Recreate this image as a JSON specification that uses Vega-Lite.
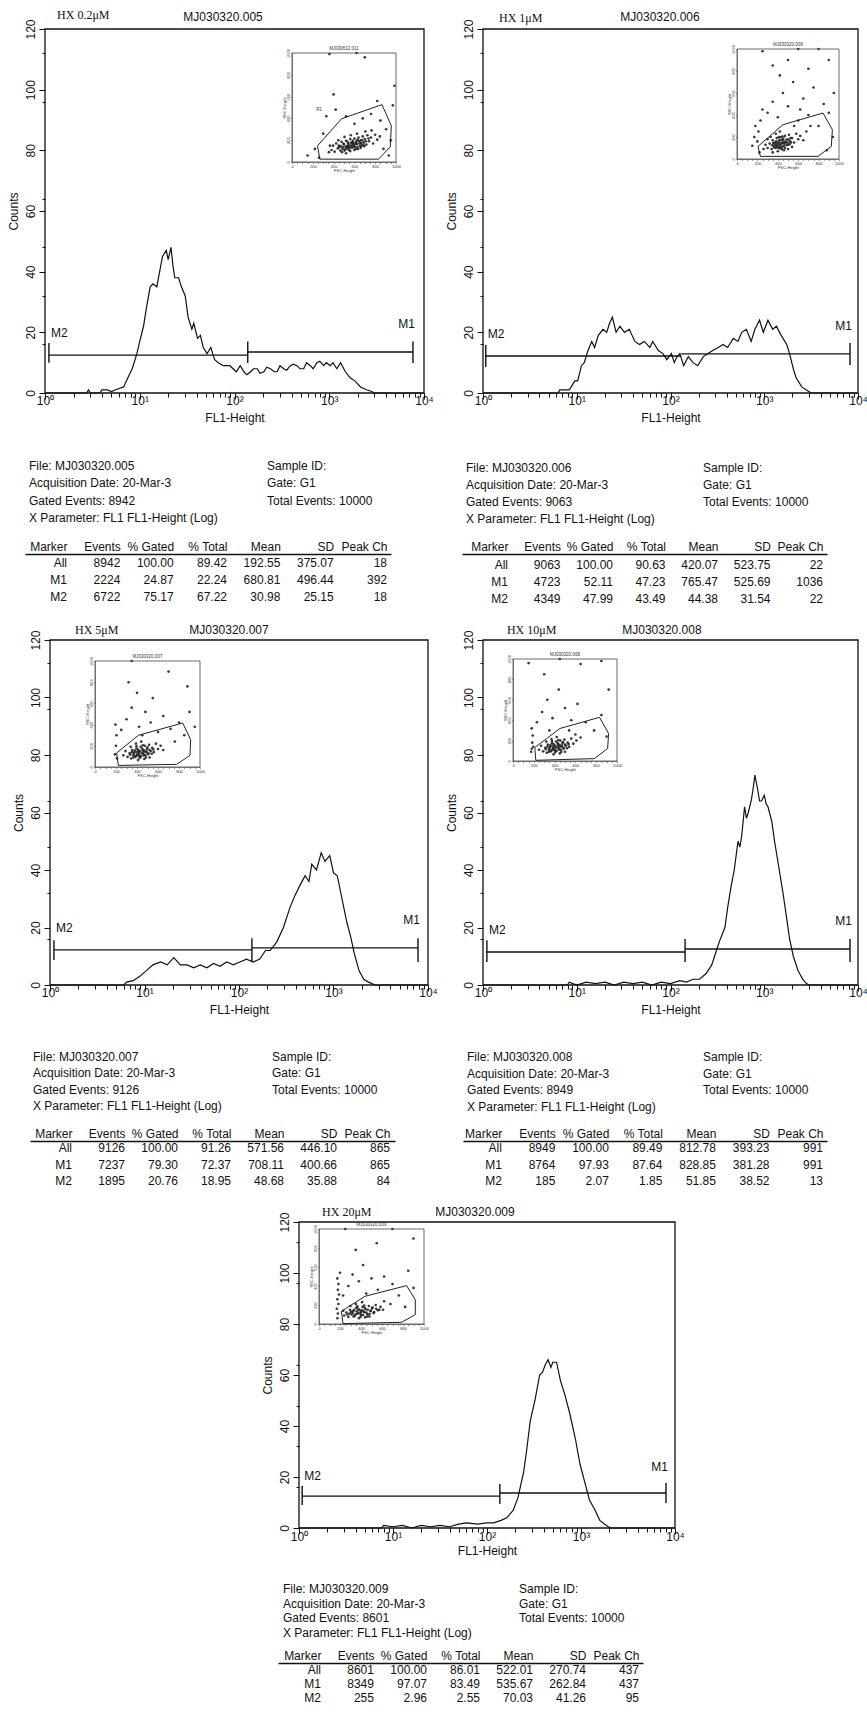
{
"$schema": "https://vega.github.io/schema/vega-lite/v6.json",
"padding": 0,
"background": "white",
"spacing": 0,
"bounds": "flush",
"config": {"font": "Liberation Sans", "view": {"stroke": null}, "axis": {"grid": false}, "text": {"color": "#111"}},
"datasets": {
"h1": [{"x":1,"c":0},{"x":2.51,"c":0},{"x":2.75,"c":0},{"x":2.88,"c":1},{"x":3.02,"c":0},{"x":3.8,"c":0},{"x":3.98,"c":1},{"x":4.57,"c":1},{"x":5.01,"c":0.5},{"x":5.5,"c":1},{"x":6.03,"c":1.5},{"x":6.76,"c":2},{"x":7.24,"c":4},{"x":8.32,"c":8},{"x":9.33,"c":13},{"x":10,"c":17},{"x":10.96,"c":22},{"x":11.75,"c":28},{"x":12.88,"c":35},{"x":13.8,"c":36},{"x":15.14,"c":35},{"x":16.22,"c":40},{"x":17.38,"c":45},{"x":19.05,"c":47},{"x":19.95,"c":44},{"x":21.38,"c":48},{"x":22.39,"c":42},{"x":23.44,"c":38},{"x":25.7,"c":38},{"x":27.54,"c":35},{"x":30.2,"c":32},{"x":32.36,"c":25},{"x":35.48,"c":21},{"x":37.15,"c":23},{"x":40.74,"c":18},{"x":43.65,"c":19},{"x":46.77,"c":15},{"x":51.29,"c":13},{"x":56.23,"c":15},{"x":61.66,"c":11},{"x":67.61,"c":10},{"x":75.86,"c":9},{"x":89.13,"c":9},{"x":104.7,"c":7},{"x":114.8,"c":9},{"x":125.9,"c":7},{"x":134.9,"c":6},{"x":147.9,"c":7},{"x":158.5,"c":8},{"x":173.8,"c":8},{"x":186.2,"c":6.5},{"x":204.2,"c":7},{"x":218.8,"c":8.5},{"x":239.9,"c":8},{"x":263,"c":7},{"x":281.8,"c":7},{"x":302,"c":9},{"x":331.1,"c":8},{"x":354.8,"c":7.5},{"x":389,"c":9},{"x":416.9,"c":9.5},{"x":457.1,"c":9},{"x":489.8,"c":8},{"x":537,"c":8},{"x":575.4,"c":10},{"x":631,"c":9},{"x":676.1,"c":8},{"x":741.3,"c":10},{"x":794.3,"c":10.5},{"x":871,"c":9},{"x":933.3,"c":10},{"x":1023,"c":9},{"x":1096,"c":10},{"x":1202,"c":8},{"x":1318,"c":10},{"x":1479,"c":7},{"x":1660,"c":5},{"x":1862,"c":4},{"x":2138,"c":2},{"x":2512,"c":1},{"x":2818,"c":0.5},{"x":2951,"c":0},{"x":10000,"c":0}],
"h2": [{"x":1,"c":0},{"x":6.31,"c":0},{"x":6.61,"c":1},{"x":8.32,"c":1},{"x":8.71,"c":2},{"x":9.55,"c":4},{"x":10.23,"c":4},{"x":11.22,"c":9},{"x":12.02,"c":10},{"x":13.18,"c":14},{"x":14.45,"c":17},{"x":15.49,"c":15},{"x":16.98,"c":19},{"x":19.05,"c":21},{"x":20.89,"c":20},{"x":22.39,"c":23},{"x":23.99,"c":25},{"x":26.3,"c":20},{"x":28.84,"c":22},{"x":32.36,"c":20},{"x":36.31,"c":21},{"x":41.69,"c":17},{"x":46.77,"c":16},{"x":52.48,"c":17},{"x":60.26,"c":15},{"x":64.57,"c":17},{"x":74.13,"c":14},{"x":83.18,"c":13},{"x":91.2,"c":11},{"x":102.3,"c":13},{"x":109.6,"c":10},{"x":117.5,"c":12},{"x":125.9,"c":13},{"x":138,"c":9},{"x":154.9,"c":12},{"x":173.8,"c":10},{"x":195,"c":9},{"x":223.9,"c":12},{"x":251.2,"c":13},{"x":281.8,"c":14},{"x":323.6,"c":15},{"x":363.1,"c":16},{"x":407.4,"c":15},{"x":467.7,"c":18},{"x":524.8,"c":17},{"x":575.4,"c":20},{"x":645.7,"c":21},{"x":724.4,"c":17},{"x":794.3,"c":21},{"x":891.3,"c":24},{"x":977.2,"c":20},{"x":1096,"c":24},{"x":1230,"c":21},{"x":1349,"c":22},{"x":1514,"c":19},{"x":1738,"c":16},{"x":1862,"c":13},{"x":2042,"c":8},{"x":2188,"c":5},{"x":2512,"c":2},{"x":2818,"c":1},{"x":3162,"c":0},{"x":10000,"c":0}],
"h3": [{"x":1,"c":0},{"x":6.03,"c":0},{"x":6.46,"c":1},{"x":7.59,"c":1.5},{"x":8.91,"c":3},{"x":10.47,"c":5},{"x":12.3,"c":7},{"x":14.79,"c":8},{"x":17.38,"c":7},{"x":20.42,"c":9.5},{"x":23.99,"c":7},{"x":28.18,"c":7},{"x":33.11,"c":6},{"x":38.9,"c":7},{"x":45.71,"c":6},{"x":53.7,"c":7.5},{"x":63.1,"c":6.5},{"x":74.13,"c":8},{"x":87.1,"c":7},{"x":102.3,"c":8},{"x":120.2,"c":9},{"x":141.3,"c":8},{"x":166,"c":9},{"x":190.5,"c":12},{"x":213.8,"c":12},{"x":251.2,"c":15},{"x":295.1,"c":20},{"x":346.7,"c":27},{"x":389,"c":31},{"x":446.7,"c":35},{"x":501.2,"c":38},{"x":549.5,"c":36},{"x":588.8,"c":42},{"x":660.7,"c":40},{"x":741.3,"c":46},{"x":812.8,"c":43},{"x":912,"c":45},{"x":1000,"c":39},{"x":1096,"c":38},{"x":1230,"c":30},{"x":1380,"c":22},{"x":1514,"c":17},{"x":1660,"c":11},{"x":1862,"c":5},{"x":2089,"c":2},{"x":2344,"c":1},{"x":2754,"c":0},{"x":10000,"c":0}],
"h4": [{"x":1,"c":0},{"x":7.94,"c":0},{"x":8.32,"c":1},{"x":10,"c":0},{"x":12.59,"c":1},{"x":15.85,"c":0.5},{"x":19.95,"c":1},{"x":25.12,"c":0},{"x":31.62,"c":1},{"x":39.81,"c":0.5},{"x":50.12,"c":1},{"x":63.1,"c":0},{"x":79.43,"c":1},{"x":100,"c":0.5},{"x":125.9,"c":1.5},{"x":147.9,"c":1},{"x":173.8,"c":2},{"x":204.2,"c":2},{"x":239.9,"c":4},{"x":275.4,"c":7},{"x":309,"c":12},{"x":331.1,"c":15},{"x":380.2,"c":20},{"x":407.4,"c":27},{"x":446.7,"c":35},{"x":478.6,"c":40},{"x":524.8,"c":50},{"x":549.5,"c":48},{"x":575.4,"c":52},{"x":616.6,"c":62},{"x":645.7,"c":58},{"x":676.1,"c":60},{"x":724.4,"c":64},{"x":758.6,"c":68},{"x":794.3,"c":73},{"x":851.1,"c":68},{"x":891.3,"c":64},{"x":933.3,"c":64},{"x":1000,"c":66},{"x":1047,"c":63},{"x":1096,"c":62},{"x":1202,"c":57},{"x":1288,"c":50},{"x":1413,"c":42},{"x":1585,"c":32},{"x":1738,"c":23},{"x":1862,"c":16},{"x":2042,"c":10},{"x":2291,"c":5},{"x":2570,"c":2},{"x":2818,"c":0.5},{"x":3020,"c":0},{"x":10000,"c":0}],
"h5": [{"x":1,"c":0},{"x":7.59,"c":0},{"x":7.94,"c":1},{"x":10,"c":0.5},{"x":12.59,"c":1},{"x":15.85,"c":0},{"x":19.95,"c":1},{"x":25.12,"c":0.5},{"x":31.62,"c":1},{"x":39.81,"c":0.5},{"x":50.12,"c":1.5},{"x":60.26,"c":2},{"x":79.43,"c":1.5},{"x":100,"c":2},{"x":117.5,"c":2},{"x":141.3,"c":3},{"x":162.2,"c":4},{"x":190.5,"c":7},{"x":213.8,"c":12},{"x":245.5,"c":22},{"x":263,"c":30},{"x":288.4,"c":42},{"x":323.6,"c":50},{"x":363.1,"c":60},{"x":389,"c":61},{"x":416.9,"c":64},{"x":446.7,"c":66},{"x":478.6,"c":63},{"x":501.2,"c":65},{"x":549.5,"c":65},{"x":602.6,"c":58},{"x":676.1,"c":52},{"x":758.6,"c":45},{"x":871,"c":35},{"x":977.2,"c":25},{"x":1096,"c":18},{"x":1230,"c":11},{"x":1413,"c":7},{"x":1585,"c":3},{"x":1862,"c":1},{"x":2042,"c":0},{"x":10000,"c":0}],
"g1": [{"m":"M2","start":1.1,"end":138,"level":12.5},{"m":"M1","start":138,"end":7650,"level":13.5}],
"g2": [{"m":"M2","start":1.07,"end":130,"level":12.2},{"m":"M1","start":130,"end":8220,"level":12.9}],
"g3": [{"m":"M2","start":1.1,"end":137,"level":12.2},{"m":"M1","start":137,"end":7840,"level":12.9}],
"g4": [{"m":"M2","start":1.1,"end":143,"level":11.5},{"m":"M1","start":143,"end":8220,"level":12.5}],
"g5": [{"m":"M2","start":1.08,"end":137,"level":12.5},{"m":"M1","start":137,"end":8020,"level":13.7}],
"k1": [{"at":1.1,"lo":10,"hi":16.5},{"at":138,"lo":9.9,"hi":17},{"at":7650,"lo":9.9,"hi":17}],
"k2": [{"at":1.07,"lo":8.6,"hi":15.8},{"at":8220,"lo":9.2,"hi":16.5}],
"k3": [{"at":1.1,"lo":8.7,"hi":15.6},{"at":137,"lo":8,"hi":16.3},{"at":7840,"lo":8,"hi":16.3}],
"k4": [{"at":1.1,"lo":8,"hi":15.6},{"at":143,"lo":8,"hi":16},{"at":8220,"lo":8,"hi":16}],
"k5": [{"at":1.08,"lo":9,"hi":16.5},{"at":137,"lo":9.4,"hi":17.3},{"at":8020,"lo":9.8,"hi":17.6}],
"q1": [{"v":1,"f":245,"s":148},{"v":2,"f":477,"s":397},{"v":3,"f":865,"s":526},{"v":4,"f":955,"s":332},{"v":5,"f":945,"s":139},{"v":6,"f":832,"s":26},{"v":7,"f":268,"s":26},{"v":8,"f":245,"s":148}],
"q2": [{"v":1,"f":206,"s":115},{"v":2,"f":451,"s":312},{"v":3,"f":843,"s":418},{"v":4,"f":935,"s":267},{"v":5,"f":925,"s":115},{"v":6,"f":794,"s":24},{"v":7,"f":229,"s":24},{"v":8,"f":206,"s":115}],
"q3": [{"v":1,"f":206,"s":132},{"v":2,"f":413,"s":299},{"v":3,"f":835,"s":415},{"v":4,"f":911,"s":258},{"v":5,"f":905,"s":110},{"v":6,"f":778,"s":25},{"v":7,"f":222,"s":15},{"v":8,"f":206,"s":132}],
"q4": [{"v":1,"f":210,"s":132},{"v":2,"f":452,"s":319},{"v":3,"f":832,"s":428},{"v":4,"f":919,"s":270},{"v":5,"f":910,"s":122},{"v":6,"f":781,"s":23},{"v":7,"f":219,"s":7},{"v":8,"f":210,"s":132}],
"q5": [{"v":1,"f":213,"s":133},{"v":2,"f":436,"s":291},{"v":3,"f":834,"s":404},{"v":4,"f":917,"s":256},{"v":5,"f":917,"s":98},{"v":6,"f":787,"s":18},{"v":7,"f":229,"s":4},{"v":8,"f":213,"s":133}],
"s1": [{"f":380,"s":110},{"f":395,"s":150},{"f":410,"s":95},{"f":425,"s":170},{"f":440,"s":125},{"f":450,"s":150},{"f":465,"s":105},{"f":475,"s":185},{"f":490,"s":135},{"f":500,"s":160},{"f":510,"s":115},{"f":520,"s":195},{"f":530,"s":145},{"f":540,"s":170},{"f":550,"s":125},{"f":560,"s":210},{"f":570,"s":150},{"f":580,"s":180},{"f":590,"s":135},{"f":600,"s":215},{"f":610,"s":165},{"f":620,"s":190},{"f":630,"s":140},{"f":640,"s":225},{"f":650,"s":170},{"f":660,"s":200},{"f":670,"s":150},{"f":680,"s":235},{"f":690,"s":180},{"f":700,"s":210},{"f":715,"s":160},{"f":725,"s":245},{"f":740,"s":190},{"f":760,"s":225},{"f":780,"s":170},{"f":800,"s":250},{"f":820,"s":205},{"f":845,"s":235},{"f":480,"s":90},{"f":520,"s":80},{"f":560,"s":100},{"f":600,"s":110},{"f":445,"s":200},{"f":505,"s":230},{"f":565,"s":245},{"f":625,"s":260},{"f":355,"s":90},{"f":365,"s":150},{"f":705,"s":280},{"f":765,"s":290},{"f":540,"s":140},{"f":585,"s":160},{"f":470,"s":145},{"f":660,"s":130},{"f":615,"s":120},{"f":455,"s":135},{"f":485,"s":120},{"f":495,"s":170},{"f":515,"s":140},{"f":525,"s":125},{"f":535,"s":185},{"f":545,"s":155},{"f":555,"s":140},{"f":565,"s":175},{"f":575,"s":130},{"f":585,"s":195},{"f":595,"s":150},{"f":605,"s":140},{"f":615,"s":180},{"f":625,"s":165},{"f":635,"s":120},{"f":645,"s":190},{"f":655,"s":150},{"f":665,"s":175},{"f":675,"s":200},{"f":685,"s":160},{"f":695,"s":145},{"f":505,"s":105},{"f":545,"s":110},{"f":590,"s":175},{"f":630,"s":205},{"f":710,"s":190},{"f":735,"s":215},{"f":150,"s":60},{"f":220,"s":120},{"f":300,"s":260},{"f":330,"s":420},{"f":420,"s":480},{"f":520,"s":420},{"f":600,"s":350},{"f":680,"s":400},{"f":760,"s":440},{"f":850,"s":380},{"f":905,"s":300},{"f":950,"s":200},{"f":970,"s":520},{"f":985,"s":700},{"f":700,"s":960},{"f":360,"s":990},{"f":620,"s":1000},{"f":880,"s":120},{"f":930,"s":60},{"f":260,"s":40},{"f":400,"s":620},{"f":820,"s":560}],
"s2": [{"f":300,"s":100},{"f":320,"s":140},{"f":340,"s":90},{"f":350,"s":170},{"f":360,"s":120},{"f":370,"s":150},{"f":380,"s":100},{"f":390,"s":190},{"f":400,"s":130},{"f":410,"s":160},{"f":420,"s":110},{"f":430,"s":200},{"f":440,"s":140},{"f":450,"s":170},{"f":460,"s":120},{"f":470,"s":210},{"f":480,"s":150},{"f":490,"s":180},{"f":500,"s":130},{"f":510,"s":220},{"f":520,"s":160},{"f":540,"s":190},{"f":560,"s":150},{"f":580,"s":230},{"f":600,"s":180},{"f":620,"s":210},{"f":650,"s":170},{"f":680,"s":250},{"f":330,"s":200},{"f":380,"s":230},{"f":420,"s":250},{"f":460,"s":80},{"f":400,"s":70},{"f":350,"s":60},{"f":500,"s":90},{"f":440,"s":90},{"f":540,"s":110},{"f":300,"s":180},{"f":280,"s":130},{"f":260,"s":90},{"f":415,"s":140},{"f":455,"s":150},{"f":395,"s":115},{"f":435,"s":175},{"f":345,"s":125},{"f":365,"s":105},{"f":375,"s":135},{"f":385,"s":160},{"f":395,"s":145},{"f":405,"s":100},{"f":415,"s":175},{"f":425,"s":125},{"f":435,"s":150},{"f":445,"s":110},{"f":455,"s":185},{"f":465,"s":140},{"f":475,"s":160},{"f":485,"s":125},{"f":495,"s":150},{"f":505,"s":175},{"f":515,"s":135},{"f":525,"s":190},{"f":410,"s":200},{"f":385,"s":120},{"f":425,"s":95},{"f":445,"s":205},{"f":470,"s":100},{"f":530,"s":150},{"f":355,"s":145},{"f":150,"s":120},{"f":170,"s":200},{"f":180,"s":300},{"f":220,"s":60},{"f":230,"s":350},{"f":250,"s":450},{"f":300,"s":420},{"f":350,"s":520},{"f":400,"s":380},{"f":450,"s":600},{"f":500,"s":480},{"f":550,"s":700},{"f":600,"s":350},{"f":650,"s":550},{"f":700,"s":400},{"f":750,"s":650},{"f":800,"s":300},{"f":850,"s":500},{"f":900,"s":420},{"f":950,"s":600},{"f":350,"s":850},{"f":500,"s":900},{"f":700,"s":820},{"f":900,"s":900},{"f":600,"s":1000},{"f":800,"s":1000},{"f":250,"s":980},{"f":420,"s":760},{"f":940,"s":200},{"f":880,"s":80},{"f":200,"s":160},{"f":210,"s":250},{"f":560,"s":300},{"f":620,"s":450},{"f":720,"s":300}],
"s3": [{"f":310,"s":95},{"f":330,"s":130},{"f":345,"s":80},{"f":355,"s":160},{"f":365,"s":110},{"f":375,"s":140},{"f":385,"s":95},{"f":395,"s":175},{"f":405,"s":120},{"f":415,"s":150},{"f":425,"s":100},{"f":435,"s":190},{"f":445,"s":130},{"f":455,"s":160},{"f":465,"s":110},{"f":475,"s":200},{"f":485,"s":140},{"f":495,"s":170},{"f":505,"s":120},{"f":515,"s":210},{"f":530,"s":150},{"f":545,"s":180},{"f":560,"s":140},{"f":580,"s":220},{"f":600,"s":170},{"f":625,"s":200},{"f":650,"s":160},{"f":340,"s":190},{"f":390,"s":220},{"f":440,"s":240},{"f":470,"s":75},{"f":410,"s":65},{"f":520,"s":90},{"f":290,"s":150},{"f":270,"s":110},{"f":420,"s":135},{"f":460,"s":145},{"f":400,"s":110},{"f":335,"s":115},{"f":350,"s":140},{"f":370,"s":125},{"f":380,"s":155},{"f":390,"s":105},{"f":400,"s":140},{"f":410,"s":165},{"f":420,"s":115},{"f":430,"s":150},{"f":440,"s":100},{"f":450,"s":175},{"f":460,"s":125},{"f":470,"s":155},{"f":480,"s":110},{"f":490,"s":145},{"f":500,"s":185},{"f":510,"s":130},{"f":520,"s":160},{"f":540,"s":125},{"f":395,"s":195},{"f":425,"s":85},{"f":455,"s":205},{"f":365,"s":90},{"f":485,"s":90},{"f":555,"s":165},{"f":190,"s":120},{"f":200,"s":200},{"f":205,"s":300},{"f":195,"s":400},{"f":210,"s":80},{"f":250,"s":350},{"f":300,"s":450},{"f":350,"s":560},{"f":420,"s":380},{"f":480,"s":520},{"f":530,"s":420},{"f":600,"s":330},{"f":650,"s":480},{"f":720,"s":360},{"f":800,"s":420},{"f":850,"s":300},{"f":900,"s":520},{"f":950,"s":380},{"f":400,"s":700},{"f":550,"s":650},{"f":320,"s":800},{"f":700,"s":900},{"f":350,"s":1000},{"f":880,"s":760},{"f":760,"s":240},{"f":450,"s":300}],
"s4": [{"f":290,"s":95},{"f":310,"s":130},{"f":325,"s":80},{"f":335,"s":160},{"f":345,"s":110},{"f":355,"s":140},{"f":365,"s":95},{"f":375,"s":175},{"f":385,"s":120},{"f":395,"s":150},{"f":405,"s":100},{"f":415,"s":190},{"f":425,"s":130},{"f":435,"s":160},{"f":445,"s":110},{"f":455,"s":200},{"f":465,"s":140},{"f":475,"s":170},{"f":485,"s":120},{"f":495,"s":210},{"f":510,"s":150},{"f":525,"s":180},{"f":540,"s":140},{"f":560,"s":220},{"f":580,"s":170},{"f":610,"s":200},{"f":320,"s":190},{"f":370,"s":215},{"f":420,"s":235},{"f":450,"s":75},{"f":390,"s":65},{"f":500,"s":90},{"f":270,"s":150},{"f":250,"s":110},{"f":400,"s":135},{"f":440,"s":145},{"f":380,"s":110},{"f":600,"s":260},{"f":650,"s":230},{"f":315,"s":115},{"f":330,"s":140},{"f":350,"s":125},{"f":360,"s":155},{"f":370,"s":105},{"f":380,"s":140},{"f":390,"s":165},{"f":400,"s":115},{"f":410,"s":150},{"f":420,"s":100},{"f":430,"s":175},{"f":440,"s":125},{"f":450,"s":155},{"f":460,"s":110},{"f":470,"s":145},{"f":480,"s":185},{"f":490,"s":130},{"f":500,"s":160},{"f":520,"s":125},{"f":375,"s":195},{"f":405,"s":85},{"f":435,"s":205},{"f":345,"s":90},{"f":465,"s":90},{"f":535,"s":165},{"f":180,"s":120},{"f":185,"s":180},{"f":190,"s":250},{"f":180,"s":320},{"f":175,"s":90},{"f":195,"s":140},{"f":230,"s":380},{"f":280,"s":480},{"f":330,"s":600},{"f":380,"s":420},{"f":440,"s":700},{"f":500,"s":520},{"f":560,"s":400},{"f":620,"s":560},{"f":700,"s":380},{"f":780,"s":300},{"f":850,"s":450},{"f":920,"s":700},{"f":300,"s":850},{"f":450,"s":1000},{"f":650,"s":950},{"f":850,"s":980},{"f":150,"s":960},{"f":900,"s":240},{"f":540,"s":300},{"f":350,"s":300}],
"s5": [{"f":240,"s":90},{"f":260,"s":120},{"f":280,"s":75},{"f":295,"s":150},{"f":310,"s":100},{"f":325,"s":135},{"f":340,"s":85},{"f":355,"s":170},{"f":370,"s":115},{"f":385,"s":145},{"f":400,"s":95},{"f":415,"s":180},{"f":430,"s":125},{"f":445,"s":155},{"f":460,"s":105},{"f":475,"s":190},{"f":490,"s":135},{"f":505,"s":165},{"f":520,"s":115},{"f":540,"s":200},{"f":560,"s":145},{"f":585,"s":180},{"f":610,"s":150},{"f":300,"s":190},{"f":350,"s":210},{"f":410,"s":230},{"f":440,"s":70},{"f":380,"s":60},{"f":480,"s":80},{"f":230,"s":140},{"f":400,"s":125},{"f":420,"s":140},{"f":360,"s":105},{"f":620,"s":240},{"f":680,"s":210},{"f":290,"s":110},{"f":305,"s":130},{"f":320,"s":115},{"f":335,"s":150},{"f":345,"s":100},{"f":360,"s":135},{"f":375,"s":160},{"f":390,"s":110},{"f":405,"s":145},{"f":420,"s":95},{"f":435,"s":170},{"f":450,"s":120},{"f":465,"s":150},{"f":480,"s":105},{"f":495,"s":140},{"f":510,"s":175},{"f":525,"s":125},{"f":545,"s":160},{"f":365,"s":185},{"f":395,"s":75},{"f":430,"s":195},{"f":330,"s":80},{"f":460,"s":80},{"f":575,"s":150},{"f":270,"s":100},{"f":175,"s":60},{"f":180,"s":110},{"f":170,"s":160},{"f":185,"s":210},{"f":175,"s":260},{"f":190,"s":310},{"f":180,"s":360},{"f":185,"s":420},{"f":175,"s":480},{"f":200,"s":540},{"f":230,"s":300},{"f":280,"s":400},{"f":320,"s":520},{"f":380,"s":450},{"f":420,"s":620},{"f":500,"s":480},{"f":560,"s":360},{"f":620,"s":500},{"f":700,"s":420},{"f":760,"s":300},{"f":850,"s":560},{"f":900,"s":380},{"f":350,"s":780},{"f":550,"s":850},{"f":250,"s":1000},{"f":700,"s":1000},{"f":900,"s":900},{"f":450,"s":320},{"f":820,"s":180}]
},
"vconcat": [
{"width":867,"height":29,"data":{"values":[{}]},"mark":{"type":"text","text":""}},

{"width":867,"height":364,
 "layer":[
  {"layer":[
   {"layer":[
    {"data":{"name":"h1"},"mark":{"type":"line","color":"#111","strokeWidth":1.2},
     "encoding":{
      "x":{"field":"x","type":"quantitative","scale":{"type":"log","domain":[1,10000],"range":[45,424],"nice":false},
       "axis":{"orient":"bottom","values":[1,2,3,4,5,6,7,8,9,10,20,30,40,50,60,70,80,90,100,200,300,400,500,600,700,800,900,1000,2000,3000,4000,5000,6000,7000,8000,9000,10000],"labels":false,"tickSize":4,"tickColor":"#111","domain":false,"title":"FL1-Height","titleFontSize":12,"titleFontWeight":"normal","titleColor":"#111","titlePadding":15}},
      "y":{"field":"c","type":"quantitative","scale":{"domain":[0,120],"nice":false},
       "axis":{"orient":"left","offset":-45,"values":[0,4,8,12,16,20,24,28,32,36,40,44,48,52,56,60,64,68,72,76,80,84,88,92,96,100,104,108,112,116,120],"labels":false,"tickSize":3,"tickColor":"#111","domain":false,"title":null}}}},
    {"data":{"name":"g1"},"mark":{"type":"rule","color":"#111","strokeWidth":1.4},"encoding":{"x":{"field":"start","type":"quantitative"},"x2":{"field":"end"},"y":{"field":"level","type":"quantitative"}}},
    {"data":{"name":"k1"},"mark":{"type":"rule","color":"#111","strokeWidth":1.4},"encoding":{"x":{"field":"at","type":"quantitative"},"y":{"field":"lo","type":"quantitative"},"y2":{"field":"hi"}}},
    {"data":{"name":"g1"},"transform":[{"filter":"datum.m == 'M2'"}],"mark":{"type":"text","align":"left","baseline":"middle","dx":2,"dy":-22,"fontSize":12},"encoding":{"x":{"field":"start","type":"quantitative"},"y":{"field":"level","type":"quantitative"},"text":{"field":"m"}}},
    {"data":{"name":"g1"},"transform":[{"filter":"datum.m == 'M1'"}],"mark":{"type":"text","align":"right","baseline":"middle","dx":2,"dy":-28,"fontSize":12},"encoding":{"x":{"field":"end","type":"quantitative"},"y":{"field":"level","type":"quantitative"},"text":{"field":"m"}}},
    {"data":{"values":[{"t":"HX 0.2μM"}]},"mark":{"type":"text","align":"left","baseline":"middle","font":"Liberation Serif","fontSize":12},"encoding":{"x":{"datum":1.34,"type":"quantitative"},"y":{"datum":124.5,"type":"quantitative"},"text":{"field":"t"}}},
    {"data":{"values":[{"t":"MJ030320.005"}]},"mark":{"type":"text","align":"center","baseline":"middle","fontSize":12},"encoding":{"x":{"datum":75.7,"type":"quantitative"},"y":{"datum":124,"type":"quantitative"},"text":{"field":"t"}}}
   ]},
   {"data":{"values":[{}]},"mark":{"type":"rect","fill":"transparent","stroke":"#111","strokeWidth":1.3},
    "encoding":{
     "x":{"datum":1,"type":"quantitative","scale":{"type":"log","domain":[1,10000],"range":[45,424],"nice":false},
      "axis":{"orient":"bottom","values":[1,10,100,1000,10000],"labelExpr":"datum.value == 1 ? '10⁰' : datum.value == 10 ? '10¹' : datum.value == 100 ? '10²' : datum.value == 1000 ? '10³' : '10⁴'","labelFontSize":12,"labelColor":"#111","labelFlush":false,"labelOverlap":false,"labelBound":false,"labelPadding":-4,"tickSize":6,"tickColor":"#111","domain":false,"title":null}},
     "x2":{"datum":10000},
     "y":{"datum":0,"type":"quantitative","scale":{"domain":[0,120],"nice":false},
      "axis":{"orient":"left","offset":-45,"values":[0,20,40,60,80,100,120],"format":"d","labelAngle":270,"labelAlign":"center","labelBaseline":"bottom","labelPadding":2,"labelFontSize":12,"labelColor":"#111","labelFlush":false,"labelOverlap":false,"tickSize":6,"tickColor":"#111","domain":false,"title":"Counts","titleFontSize":12,"titleFontWeight":"normal","titleColor":"#111","titlePadding":4}},
     "y2":{"datum":120}}},
   {"layer":[
    {"data":{"name":"s1"},"mark":{"type":"point","filled":true,"size":7,"color":"#222","opacity":0.9},
     "encoding":{
      "x":{"field":"f","type":"quantitative","scale":{"domain":[0,1000],"range":[292,396],"nice":false},
       "axis":{"orient":"bottom","offset":-231,"title":"FSC-Height","titleFontSize":4,"titleFontWeight":"normal","titlePadding":0,"values":[0,50,100,150,200,250,300,350,400,450,500,550,600,650,700,750,800,850,900,950,1000],"format":"d","labelExpr":"datum.value % 200 == 0 ? datum.label : ''","labelFontSize":4,"labelPadding":0.5,"labelFlush":false,"labelOverlap":false,"tickSize":1.5,"tickWidth":0.5,"domainWidth":0.6,"domainColor":"#444","tickColor":"#444","labelColor":"#333","titleColor":"#333"}},
      "y":{"field":"s","type":"quantitative","scale":{"domain":[0,1000],"range":[133,24],"nice":false},
       "axis":{"orient":"left","offset":-292,"title":"SSC-Height","titleFontSize":4,"titleFontWeight":"normal","titlePadding":0,"values":[0,50,100,150,200,250,300,350,400,450,500,550,600,650,700,750,800,850,900,950,1000],"format":"d","labelExpr":"datum.value % 200 == 0 ? datum.label : ''","labelFontSize":4,"labelAngle":270,"labelAlign":"center","labelBaseline":"bottom","labelPadding":0.5,"labelFlush":false,"labelOverlap":false,"tickSize":1.5,"tickWidth":0.5,"domainWidth":0.6,"domainColor":"#444","tickColor":"#444","labelColor":"#333","titleColor":"#333"}}}},
    {"data":{"values":[{}]},"mark":{"type":"rect","fill":"transparent","stroke":"#444","strokeWidth":0.8},"encoding":{"x":{"datum":0,"type":"quantitative"},"x2":{"datum":1000},"y":{"datum":0,"type":"quantitative"},"y2":{"datum":1000}}},
    {"data":{"name":"q1"},"mark":{"type":"line","color":"#222","strokeWidth":1},"encoding":{"x":{"field":"f","type":"quantitative"},"y":{"field":"s","type":"quantitative"},"order":{"field":"v"}}},
    {"data":{"values":[{"t":"MJ030612.011"}]},"mark":{"type":"text","fontSize":4.5,"dy":-4,"color":"#333"},"encoding":{"x":{"datum":500,"type":"quantitative"},"y":{"datum":1000,"type":"quantitative"},"text":{"field":"t"}}},
    {"data":{"values":[{"t":"R1"}]},"mark":{"type":"text","fontSize":4.5,"color":"#333"},"encoding":{"x":{"datum":261,"type":"quantitative"},"y":{"datum":477,"type":"quantitative"},"text":{"field":"t"}}}
   ]}
  ],"resolve":{"scale":{"x":"independent","y":"independent"}}},
  {"layer":[
   {"layer":[
    {"data":{"name":"h2"},"mark":{"type":"line","color":"#111","strokeWidth":1.2},
     "encoding":{
      "x":{"field":"x","type":"quantitative","scale":{"type":"log","domain":[1,10000],"range":[483,858],"nice":false},
       "axis":{"orient":"bottom","values":[1,2,3,4,5,6,7,8,9,10,20,30,40,50,60,70,80,90,100,200,300,400,500,600,700,800,900,1000,2000,3000,4000,5000,6000,7000,8000,9000,10000],"labels":false,"tickSize":4,"tickColor":"#111","domain":false,"title":"FL1-Height","titleFontSize":12,"titleFontWeight":"normal","titleColor":"#111","titlePadding":15}},
      "y":{"field":"c","type":"quantitative","scale":{"domain":[0,120],"nice":false},
       "axis":{"orient":"left","offset":-483,"values":[0,4,8,12,16,20,24,28,32,36,40,44,48,52,56,60,64,68,72,76,80,84,88,92,96,100,104,108,112,116,120],"labels":false,"tickSize":3,"tickColor":"#111","domain":false,"title":null}}}},
    {"data":{"name":"g2"},"mark":{"type":"rule","color":"#111","strokeWidth":1.4},"encoding":{"x":{"field":"start","type":"quantitative"},"x2":{"field":"end"},"y":{"field":"level","type":"quantitative"}}},
    {"data":{"name":"k2"},"mark":{"type":"rule","color":"#111","strokeWidth":1.4},"encoding":{"x":{"field":"at","type":"quantitative"},"y":{"field":"lo","type":"quantitative"},"y2":{"field":"hi"}}},
    {"data":{"name":"g2"},"transform":[{"filter":"datum.m == 'M2'"}],"mark":{"type":"text","align":"left","baseline":"middle","dx":2,"dy":-22,"fontSize":12},"encoding":{"x":{"field":"start","type":"quantitative"},"y":{"field":"level","type":"quantitative"},"text":{"field":"m"}}},
    {"data":{"name":"g2"},"transform":[{"filter":"datum.m == 'M1'"}],"mark":{"type":"text","align":"right","baseline":"middle","dx":2,"dy":-28,"fontSize":12},"encoding":{"x":{"field":"end","type":"quantitative"},"y":{"field":"level","type":"quantitative"},"text":{"field":"m"}}},
    {"data":{"values":[{"t":"HX 1μM"}]},"mark":{"type":"text","align":"left","baseline":"middle","font":"Liberation Serif","fontSize":12},"encoding":{"x":{"datum":1.48,"type":"quantitative"},"y":{"datum":123.6,"type":"quantitative"},"text":{"field":"t"}}},
    {"data":{"values":[{"t":"MJ030320.006"}]},"mark":{"type":"text","align":"center","baseline":"middle","fontSize":12},"encoding":{"x":{"datum":77.3,"type":"quantitative"},"y":{"datum":124,"type":"quantitative"},"text":{"field":"t"}}}
   ]},
   {"data":{"values":[{}]},"mark":{"type":"rect","fill":"transparent","stroke":"#111","strokeWidth":1.3},
    "encoding":{
     "x":{"datum":1,"type":"quantitative","scale":{"type":"log","domain":[1,10000],"range":[483,858],"nice":false},
      "axis":{"orient":"bottom","values":[1,10,100,1000,10000],"labelExpr":"datum.value == 1 ? '10⁰' : datum.value == 10 ? '10¹' : datum.value == 100 ? '10²' : datum.value == 1000 ? '10³' : '10⁴'","labelFontSize":12,"labelColor":"#111","labelFlush":false,"labelOverlap":false,"labelBound":false,"labelPadding":-4,"tickSize":6,"tickColor":"#111","domain":false,"title":null}},
     "x2":{"datum":10000},
     "y":{"datum":0,"type":"quantitative","scale":{"domain":[0,120],"nice":false},
      "axis":{"orient":"left","offset":-483,"values":[0,20,40,60,80,100,120],"format":"d","labelAngle":270,"labelAlign":"center","labelBaseline":"bottom","labelPadding":2,"labelFontSize":12,"labelColor":"#111","labelFlush":false,"labelOverlap":false,"tickSize":6,"tickColor":"#111","domain":false,"title":"Counts","titleFontSize":12,"titleFontWeight":"normal","titleColor":"#111","titlePadding":4}},
     "y2":{"datum":120}}},
   {"layer":[
    {"data":{"name":"s2"},"mark":{"type":"point","filled":true,"size":7,"color":"#222","opacity":0.9},
     "encoding":{
      "x":{"field":"f","type":"quantitative","scale":{"domain":[0,1000],"range":[737,839],"nice":false},
       "axis":{"orient":"bottom","offset":-234,"title":"FSC-Height","titleFontSize":4,"titleFontWeight":"normal","titlePadding":0,"values":[0,50,100,150,200,250,300,350,400,450,500,550,600,650,700,750,800,850,900,950,1000],"format":"d","labelExpr":"datum.value % 200 == 0 ? datum.label : ''","labelFontSize":4,"labelPadding":0.5,"labelFlush":false,"labelOverlap":false,"tickSize":1.5,"tickWidth":0.5,"domainWidth":0.6,"domainColor":"#444","tickColor":"#444","labelColor":"#333","titleColor":"#333"}},
      "y":{"field":"s","type":"quantitative","scale":{"domain":[0,1000],"range":[130,20],"nice":false},
       "axis":{"orient":"left","offset":-737,"title":"SSC-Height","titleFontSize":4,"titleFontWeight":"normal","titlePadding":0,"values":[0,50,100,150,200,250,300,350,400,450,500,550,600,650,700,750,800,850,900,950,1000],"format":"d","labelExpr":"datum.value % 200 == 0 ? datum.label : ''","labelFontSize":4,"labelAngle":270,"labelAlign":"center","labelBaseline":"bottom","labelPadding":0.5,"labelFlush":false,"labelOverlap":false,"tickSize":1.5,"tickWidth":0.5,"domainWidth":0.6,"domainColor":"#444","tickColor":"#444","labelColor":"#333","titleColor":"#333"}}}},
    {"data":{"values":[{}]},"mark":{"type":"rect","fill":"transparent","stroke":"#444","strokeWidth":0.8},"encoding":{"x":{"datum":0,"type":"quantitative"},"x2":{"datum":1000},"y":{"datum":0,"type":"quantitative"},"y2":{"datum":1000}}},
    {"data":{"name":"q2"},"mark":{"type":"line","color":"#222","strokeWidth":1},"encoding":{"x":{"field":"f","type":"quantitative"},"y":{"field":"s","type":"quantitative"},"order":{"field":"v"}}},
    {"data":{"values":[{"t":"MJ030320.006"}]},"mark":{"type":"text","fontSize":4.5,"dy":-4,"color":"#333"},"encoding":{"x":{"datum":500,"type":"quantitative"},"y":{"datum":1000,"type":"quantitative"},"text":{"field":"t"}}}
   ]}
  ],"resolve":{"scale":{"x":"independent","y":"independent"}}}
 ],
 "resolve":{"scale":{"x":"independent","y":"independent"}}},

{"width":867,"height":161,
 "layer":[
  {"data":{"values":[{"line":1,"left":"File: MJ030320.005","right":"Sample ID:"},{"line":2,"left":"Acquisition Date: 20-Mar-3","right":"Gate: G1"},{"line":3,"left":"Gated Events: 8942","right":"Total Events: 10000"},{"line":4,"left":"X Parameter: FL1 FL1-Height (Log)","right":""}]},
   "transform":[{"fold":["left","right"],"as":["side","txt"]}],
   "mark":{"type":"text","align":"left","baseline":"middle","fontSize":12},
   "encoding":{"x":{"field":"side","type":"nominal","scale":{"type":"point","domain":["left","right"],"range":[29,267],"padding":0},"axis":null},"y":{"field":"line","type":"ordinal","scale":{"type":"point","range":[73,125],"padding":0},"axis":null},"text":{"field":"txt"}}},
  {"data":{"values":[{"line":1,"left":"File: MJ030320.006","right":"Sample ID:"},{"line":2,"left":"Acquisition Date: 20-Mar-3","right":"Gate: G1"},{"line":3,"left":"Gated Events: 9063","right":"Total Events: 10000"},{"line":4,"left":"X Parameter: FL1 FL1-Height (Log)","right":""}]},
   "transform":[{"fold":["left","right"],"as":["side","txt"]}],
   "mark":{"type":"text","align":"left","baseline":"middle","fontSize":12},
   "encoding":{"x":{"field":"side","type":"nominal","scale":{"type":"point","domain":["left","right"],"range":[466,703],"padding":0},"axis":null},"y":{"field":"line","type":"ordinal","scale":{"type":"point","range":[75,126],"padding":0},"axis":null},"text":{"field":"txt"}}}
 ],
 "resolve":{"scale":{"x":"independent","y":"independent"}}},

{"width":867,"height":86,
 "layer":[
  {"data":{"values":[{"Marker":"All","Events":"8942","% Gated":"100.00","% Total":"89.42","Mean":"192.55","SD":"375.07","Peak Ch":"18"},{"Marker":"M1","Events":"2224","% Gated":"24.87","% Total":"22.24","Mean":"680.81","SD":"496.44","Peak Ch":"392"},{"Marker":"M2","Events":"6722","% Gated":"75.17","% Total":"67.22","Mean":"30.98","SD":"25.15","Peak Ch":"18"}]},
   "transform":[{"fold":["Marker","Events","% Gated","% Total","Mean","SD","Peak Ch"],"as":["col","val"]}],
   "mark":{"type":"text","align":"right","baseline":"middle","fontSize":12},
   "encoding":{
    "x":{"field":"col","type":"nominal","scale":{"type":"point","domain":["Marker","Events","% Gated","% Total","Mean","SD","Peak Ch"],"range":[25,391],"padding":0.431,"align":0.913},
     "axis":{"orient":"top","title":null,"ticks":false,"domainColor":"#111","domainWidth":1.5,"labelAngle":0,"labelAlign":"right","labelBaseline":"bottom","labelPadding":1,"labelFontSize":12,"labelColor":"#111"}},
    "y":{"field":"Marker","type":"nominal","scale":{"type":"point","domain":["All","M1","M2"],"range":[9,43],"padding":0},"axis":null},
    "text":{"field":"val"}}},
  {"data":{"values":[{"Marker":"All","Events":"9063","% Gated":"100.00","% Total":"90.63","Mean":"420.07","SD":"523.75","Peak Ch":"22"},{"Marker":"M1","Events":"4723","% Gated":"52.11","% Total":"47.23","Mean":"765.47","SD":"525.69","Peak Ch":"1036"},{"Marker":"M2","Events":"4349","% Gated":"47.99","% Total":"43.49","Mean":"44.38","SD":"31.54","Peak Ch":"22"}]},
   "transform":[{"fold":["Marker","Events","% Gated","% Total","Mean","SD","Peak Ch"],"as":["col","val"]}],
   "mark":{"type":"text","align":"right","baseline":"middle","fontSize":12},
   "encoding":{
    "x":{"field":"col","type":"nominal","scale":{"type":"point","domain":["Marker","Events","% Gated","% Total","Mean","SD","Peak Ch"],"range":[462,827],"padding":0.476,"align":0.92},
     "axis":{"orient":"top","title":null,"ticks":false,"domainColor":"#111","domainWidth":1.5,"labelAngle":0,"labelAlign":"right","labelBaseline":"bottom","labelPadding":1,"labelFontSize":12,"labelColor":"#111"}},
    "y":{"field":"Marker","type":"nominal","scale":{"type":"point","domain":["All","M1","M2"],"range":[11,45],"padding":0},"axis":null},
    "text":{"field":"val"}}}
 ],
 "resolve":{"scale":{"x":"independent","y":"independent"}}},

{"width":867,"height":345,
 "layer":[
  {"layer":[
   {"layer":[
    {"data":{"name":"h3"},"mark":{"type":"line","color":"#111","strokeWidth":1.2},
     "encoding":{
      "x":{"field":"x","type":"quantitative","scale":{"type":"log","domain":[1,10000],"range":[50,428],"nice":false},
       "axis":{"orient":"bottom","values":[1,2,3,4,5,6,7,8,9,10,20,30,40,50,60,70,80,90,100,200,300,400,500,600,700,800,900,1000,2000,3000,4000,5000,6000,7000,8000,9000,10000],"labels":false,"tickSize":4,"tickColor":"#111","domain":false,"title":"FL1-Height","titleFontSize":12,"titleFontWeight":"normal","titleColor":"#111","titlePadding":15}},
      "y":{"field":"c","type":"quantitative","scale":{"domain":[0,120],"nice":false},
       "axis":{"orient":"left","offset":-50,"values":[0,4,8,12,16,20,24,28,32,36,40,44,48,52,56,60,64,68,72,76,80,84,88,92,96,100,104,108,112,116,120],"labels":false,"tickSize":3,"tickColor":"#111","domain":false,"title":null}}}},
    {"data":{"name":"g3"},"mark":{"type":"rule","color":"#111","strokeWidth":1.4},"encoding":{"x":{"field":"start","type":"quantitative"},"x2":{"field":"end"},"y":{"field":"level","type":"quantitative"}}},
    {"data":{"name":"k3"},"mark":{"type":"rule","color":"#111","strokeWidth":1.4},"encoding":{"x":{"field":"at","type":"quantitative"},"y":{"field":"lo","type":"quantitative"},"y2":{"field":"hi"}}},
    {"data":{"name":"g3"},"transform":[{"filter":"datum.m == 'M2'"}],"mark":{"type":"text","align":"left","baseline":"middle","dx":2,"dy":-22,"fontSize":12},"encoding":{"x":{"field":"start","type":"quantitative"},"y":{"field":"level","type":"quantitative"},"text":{"field":"m"}}},
    {"data":{"name":"g3"},"transform":[{"filter":"datum.m == 'M1'"}],"mark":{"type":"text","align":"right","baseline":"middle","dx":2,"dy":-28,"fontSize":12},"encoding":{"x":{"field":"end","type":"quantitative"},"y":{"field":"level","type":"quantitative"},"text":{"field":"m"}}},
    {"data":{"values":[{"t":"HX 5μM"}]},"mark":{"type":"text","align":"left","baseline":"middle","font":"Liberation Serif","fontSize":12},"encoding":{"x":{"datum":1.84,"type":"quantitative"},"y":{"datum":123.5,"type":"quantitative"},"text":{"field":"t"}}},
    {"data":{"values":[{"t":"MJ030320.007"}]},"mark":{"type":"text","align":"center","baseline":"middle","fontSize":12},"encoding":{"x":{"datum":78.3,"type":"quantitative"},"y":{"datum":123.5,"type":"quantitative"},"text":{"field":"t"}}}
   ]},
   {"data":{"values":[{}]},"mark":{"type":"rect","fill":"transparent","stroke":"#111","strokeWidth":1.3},
    "encoding":{
     "x":{"datum":1,"type":"quantitative","scale":{"type":"log","domain":[1,10000],"range":[50,428],"nice":false},
      "axis":{"orient":"bottom","values":[1,10,100,1000,10000],"labelExpr":"datum.value == 1 ? '10⁰' : datum.value == 10 ? '10¹' : datum.value == 100 ? '10²' : datum.value == 1000 ? '10³' : '10⁴'","labelFontSize":12,"labelColor":"#111","labelFlush":false,"labelOverlap":false,"labelBound":false,"labelPadding":-4,"tickSize":6,"tickColor":"#111","domain":false,"title":null}},
     "x2":{"datum":10000},
     "y":{"datum":0,"type":"quantitative","scale":{"domain":[0,120],"nice":false},
      "axis":{"orient":"left","offset":-50,"values":[0,20,40,60,80,100,120],"format":"d","labelAngle":270,"labelAlign":"center","labelBaseline":"bottom","labelPadding":2,"labelFontSize":12,"labelColor":"#111","labelFlush":false,"labelOverlap":false,"tickSize":6,"tickColor":"#111","domain":false,"title":"Counts","titleFontSize":12,"titleFontWeight":"normal","titleColor":"#111","titlePadding":4}},
     "y2":{"datum":120}}},
   {"layer":[
    {"data":{"name":"s3"},"mark":{"type":"point","filled":true,"size":7,"color":"#222","opacity":0.9},
     "encoding":{
      "x":{"field":"f","type":"quantitative","scale":{"domain":[0,1000],"range":[95,200],"nice":false},
       "axis":{"orient":"bottom","offset":-218,"title":"FSC-Height","titleFontSize":4,"titleFontWeight":"normal","titlePadding":0,"values":[0,50,100,150,200,250,300,350,400,450,500,550,600,650,700,750,800,850,900,950,1000],"format":"d","labelExpr":"datum.value % 200 == 0 ? datum.label : ''","labelFontSize":4,"labelPadding":0.5,"labelFlush":false,"labelOverlap":false,"tickSize":1.5,"tickWidth":0.5,"domainWidth":0.6,"domainColor":"#444","tickColor":"#444","labelColor":"#333","titleColor":"#333"}},
      "y":{"field":"s","type":"quantitative","scale":{"domain":[0,1000],"range":[127,21],"nice":false},
       "axis":{"orient":"left","offset":-95,"title":"SSC-Height","titleFontSize":4,"titleFontWeight":"normal","titlePadding":0,"values":[0,50,100,150,200,250,300,350,400,450,500,550,600,650,700,750,800,850,900,950,1000],"format":"d","labelExpr":"datum.value % 200 == 0 ? datum.label : ''","labelFontSize":4,"labelAngle":270,"labelAlign":"center","labelBaseline":"bottom","labelPadding":0.5,"labelFlush":false,"labelOverlap":false,"tickSize":1.5,"tickWidth":0.5,"domainWidth":0.6,"domainColor":"#444","tickColor":"#444","labelColor":"#333","titleColor":"#333"}}}},
    {"data":{"values":[{}]},"mark":{"type":"rect","fill":"transparent","stroke":"#444","strokeWidth":0.8},"encoding":{"x":{"datum":0,"type":"quantitative"},"x2":{"datum":1000},"y":{"datum":0,"type":"quantitative"},"y2":{"datum":1000}}},
    {"data":{"name":"q3"},"mark":{"type":"line","color":"#222","strokeWidth":1},"encoding":{"x":{"field":"f","type":"quantitative"},"y":{"field":"s","type":"quantitative"},"order":{"field":"v"}}},
    {"data":{"values":[{"t":"MJ030320.007"}]},"mark":{"type":"text","fontSize":4.5,"dy":-4,"color":"#333"},"encoding":{"x":{"datum":500,"type":"quantitative"},"y":{"datum":1000,"type":"quantitative"},"text":{"field":"t"}}}
   ]}
  ],"resolve":{"scale":{"x":"independent","y":"independent"}}},
  {"layer":[
   {"layer":[
    {"data":{"name":"h4"},"mark":{"type":"line","color":"#111","strokeWidth":1.2},
     "encoding":{
      "x":{"field":"x","type":"quantitative","scale":{"type":"log","domain":[1,10000],"range":[483,858],"nice":false},
       "axis":{"orient":"bottom","values":[1,2,3,4,5,6,7,8,9,10,20,30,40,50,60,70,80,90,100,200,300,400,500,600,700,800,900,1000,2000,3000,4000,5000,6000,7000,8000,9000,10000],"labels":false,"tickSize":4,"tickColor":"#111","domain":false,"title":"FL1-Height","titleFontSize":12,"titleFontWeight":"normal","titleColor":"#111","titlePadding":15}},
      "y":{"field":"c","type":"quantitative","scale":{"domain":[0,120],"nice":false},
       "axis":{"orient":"left","offset":-483,"values":[0,4,8,12,16,20,24,28,32,36,40,44,48,52,56,60,64,68,72,76,80,84,88,92,96,100,104,108,112,116,120],"labels":false,"tickSize":3,"tickColor":"#111","domain":false,"title":null}}}},
    {"data":{"name":"g4"},"mark":{"type":"rule","color":"#111","strokeWidth":1.4},"encoding":{"x":{"field":"start","type":"quantitative"},"x2":{"field":"end"},"y":{"field":"level","type":"quantitative"}}},
    {"data":{"name":"k4"},"mark":{"type":"rule","color":"#111","strokeWidth":1.4},"encoding":{"x":{"field":"at","type":"quantitative"},"y":{"field":"lo","type":"quantitative"},"y2":{"field":"hi"}}},
    {"data":{"name":"g4"},"transform":[{"filter":"datum.m == 'M2'"}],"mark":{"type":"text","align":"left","baseline":"middle","dx":2,"dy":-22,"fontSize":12},"encoding":{"x":{"field":"start","type":"quantitative"},"y":{"field":"level","type":"quantitative"},"text":{"field":"m"}}},
    {"data":{"name":"g4"},"transform":[{"filter":"datum.m == 'M1'"}],"mark":{"type":"text","align":"right","baseline":"middle","dx":2,"dy":-28,"fontSize":12},"encoding":{"x":{"field":"end","type":"quantitative"},"y":{"field":"level","type":"quantitative"},"text":{"field":"m"}}},
    {"data":{"values":[{"t":"HX 10μM"}]},"mark":{"type":"text","align":"left","baseline":"middle","font":"Liberation Serif","fontSize":12},"encoding":{"x":{"datum":1.8,"type":"quantitative"},"y":{"datum":123.5,"type":"quantitative"},"text":{"field":"t"}}},
    {"data":{"values":[{"t":"MJ030320.008"}]},"mark":{"type":"text","align":"center","baseline":"middle","fontSize":12},"encoding":{"x":{"datum":81,"type":"quantitative"},"y":{"datum":123.5,"type":"quantitative"},"text":{"field":"t"}}}
   ]},
   {"data":{"values":[{}]},"mark":{"type":"rect","fill":"transparent","stroke":"#111","strokeWidth":1.3},
    "encoding":{
     "x":{"datum":1,"type":"quantitative","scale":{"type":"log","domain":[1,10000],"range":[483,858],"nice":false},
      "axis":{"orient":"bottom","values":[1,10,100,1000,10000],"labelExpr":"datum.value == 1 ? '10⁰' : datum.value == 10 ? '10¹' : datum.value == 100 ? '10²' : datum.value == 1000 ? '10³' : '10⁴'","labelFontSize":12,"labelColor":"#111","labelFlush":false,"labelOverlap":false,"labelBound":false,"labelPadding":-4,"tickSize":6,"tickColor":"#111","domain":false,"title":null}},
     "x2":{"datum":10000},
     "y":{"datum":0,"type":"quantitative","scale":{"domain":[0,120],"nice":false},
      "axis":{"orient":"left","offset":-483,"values":[0,20,40,60,80,100,120],"format":"d","labelAngle":270,"labelAlign":"center","labelBaseline":"bottom","labelPadding":2,"labelFontSize":12,"labelColor":"#111","labelFlush":false,"labelOverlap":false,"tickSize":6,"tickColor":"#111","domain":false,"title":"Counts","titleFontSize":12,"titleFontWeight":"normal","titleColor":"#111","titlePadding":4}},
     "y2":{"datum":120}}},
   {"layer":[
    {"data":{"name":"s4"},"mark":{"type":"point","filled":true,"size":7,"color":"#222","opacity":0.9},
     "encoding":{
      "x":{"field":"f","type":"quantitative","scale":{"domain":[0,1000],"range":[513,617],"nice":false},
       "axis":{"orient":"bottom","offset":-224,"title":"FSC-Height","titleFontSize":4,"titleFontWeight":"normal","titlePadding":0,"values":[0,50,100,150,200,250,300,350,400,450,500,550,600,650,700,750,800,850,900,950,1000],"format":"d","labelExpr":"datum.value % 200 == 0 ? datum.label : ''","labelFontSize":4,"labelPadding":0.5,"labelFlush":false,"labelOverlap":false,"tickSize":1.5,"tickWidth":0.5,"domainWidth":0.6,"domainColor":"#444","tickColor":"#444","labelColor":"#333","titleColor":"#333"}},
      "y":{"field":"s","type":"quantitative","scale":{"domain":[0,1000],"range":[121,19],"nice":false},
       "axis":{"orient":"left","offset":-513,"title":"SSC-Height","titleFontSize":4,"titleFontWeight":"normal","titlePadding":0,"values":[0,50,100,150,200,250,300,350,400,450,500,550,600,650,700,750,800,850,900,950,1000],"format":"d","labelExpr":"datum.value % 200 == 0 ? datum.label : ''","labelFontSize":4,"labelAngle":270,"labelAlign":"center","labelBaseline":"bottom","labelPadding":0.5,"labelFlush":false,"labelOverlap":false,"tickSize":1.5,"tickWidth":0.5,"domainWidth":0.6,"domainColor":"#444","tickColor":"#444","labelColor":"#333","titleColor":"#333"}}}},
    {"data":{"values":[{}]},"mark":{"type":"rect","fill":"transparent","stroke":"#444","strokeWidth":0.8},"encoding":{"x":{"datum":0,"type":"quantitative"},"x2":{"datum":1000},"y":{"datum":0,"type":"quantitative"},"y2":{"datum":1000}}},
    {"data":{"name":"q4"},"mark":{"type":"line","color":"#222","strokeWidth":1},"encoding":{"x":{"field":"f","type":"quantitative"},"y":{"field":"s","type":"quantitative"},"order":{"field":"v"}}},
    {"data":{"values":[{"t":"MJ030320.008"}]},"mark":{"type":"text","fontSize":4.5,"dy":-4,"color":"#333"},"encoding":{"x":{"datum":500,"type":"quantitative"},"y":{"datum":1000,"type":"quantitative"},"text":{"field":"t"}}}
   ]}
  ],"resolve":{"scale":{"x":"independent","y":"independent"}}}
 ],
 "resolve":{"scale":{"x":"independent","y":"independent"}}},

{"width":867,"height":156,
 "layer":[
  {"data":{"values":[{"line":1,"left":"File: MJ030320.007","right":"Sample ID:"},{"line":2,"left":"Acquisition Date: 20-Mar-3","right":"Gate: G1"},{"line":3,"left":"Gated Events: 9126","right":"Total Events: 10000"},{"line":4,"left":"X Parameter: FL1 FL1-Height (Log)","right":""}]},
   "transform":[{"fold":["left","right"],"as":["side","txt"]}],
   "mark":{"type":"text","align":"left","baseline":"middle","fontSize":12},
   "encoding":{"x":{"field":"side","type":"nominal","scale":{"type":"point","domain":["left","right"],"range":[33,272],"padding":0},"axis":null},"y":{"field":"line","type":"ordinal","scale":{"type":"point","range":[72,121],"padding":0},"axis":null},"text":{"field":"txt"}}},
  {"data":{"values":[{"line":1,"left":"File: MJ030320.008","right":"Sample ID:"},{"line":2,"left":"Acquisition Date: 20-Mar-3","right":"Gate: G1"},{"line":3,"left":"Gated Events: 8949","right":"Total Events: 10000"},{"line":4,"left":"X Parameter: FL1 FL1-Height (Log)","right":""}]},
   "transform":[{"fold":["left","right"],"as":["side","txt"]}],
   "mark":{"type":"text","align":"left","baseline":"middle","fontSize":12},
   "encoding":{"x":{"field":"side","type":"nominal","scale":{"type":"point","domain":["left","right"],"range":[467,703],"padding":0},"axis":null},"y":{"field":"line","type":"ordinal","scale":{"type":"point","range":[72,122],"padding":0},"axis":null},"text":{"field":"txt"}}}
 ],
 "resolve":{"scale":{"x":"independent","y":"independent"}}},

{"width":867,"height":81,
 "layer":[
  {"data":{"values":[{"Marker":"All","Events":"9126","% Gated":"100.00","% Total":"91.26","Mean":"571.56","SD":"446.10","Peak Ch":"865"},{"Marker":"M1","Events":"7237","% Gated":"79.30","% Total":"72.37","Mean":"708.11","SD":"400.66","Peak Ch":"865"},{"Marker":"M2","Events":"1895","% Gated":"20.76","% Total":"18.95","Mean":"48.68","SD":"35.88","Peak Ch":"84"}]},
   "transform":[{"fold":["Marker","Events","% Gated","% Total","Mean","SD","Peak Ch"],"as":["col","val"]}],
   "mark":{"type":"text","align":"right","baseline":"middle","fontSize":12},
   "encoding":{
    "x":{"field":"col","type":"nominal","scale":{"type":"point","domain":["Marker","Events","% Gated","% Total","Mean","SD","Peak Ch"],"range":[30,395],"padding":0.443,"align":0.894},
     "axis":{"orient":"top","title":null,"ticks":false,"domainColor":"#111","domainWidth":1.5,"labelAngle":0,"labelAlign":"right","labelBaseline":"bottom","labelPadding":1,"labelFontSize":12,"labelColor":"#111"}},
    "y":{"field":"Marker","type":"nominal","scale":{"type":"point","domain":["All","M1","M2"],"range":[7,40],"padding":0},"axis":null},
    "text":{"field":"val"}}},
  {"data":{"values":[{"Marker":"All","Events":"8949","% Gated":"100.00","% Total":"89.49","Mean":"812.78","SD":"393.23","Peak Ch":"991"},{"Marker":"M1","Events":"8764","% Gated":"97.93","% Total":"87.64","Mean":"828.85","SD":"381.28","Peak Ch":"991"},{"Marker":"M2","Events":"185","% Gated":"2.07","% Total":"1.85","Mean":"51.85","SD":"38.52","Peak Ch":"13"}]},
   "transform":[{"fold":["Marker","Events","% Gated","% Total","Mean","SD","Peak Ch"],"as":["col","val"]}],
   "mark":{"type":"text","align":"right","baseline":"middle","fontSize":12},
   "encoding":{
    "x":{"field":"col","type":"nominal","scale":{"type":"point","domain":["Marker","Events","% Gated","% Total","Mean","SD","Peak Ch"],"range":[463,827],"padding":0.4,"align":0.907},
     "axis":{"orient":"top","title":null,"ticks":false,"domainColor":"#111","domainWidth":1.5,"labelAngle":0,"labelAlign":"right","labelBaseline":"bottom","labelPadding":1,"labelFontSize":12,"labelColor":"#111"}},
    "y":{"field":"Marker","type":"nominal","scale":{"type":"point","domain":["All","M1","M2"],"range":[7,40],"padding":0},"axis":null},
    "text":{"field":"val"}}}
 ],
 "resolve":{"scale":{"x":"independent","y":"independent"}}},

{"width":867,"height":306,
 "layer":[
  {"layer":[
   {"data":{"name":"h5"},"mark":{"type":"line","color":"#111","strokeWidth":1.2},
    "encoding":{
     "x":{"field":"x","type":"quantitative","scale":{"type":"log","domain":[1,10000],"range":[299,675],"nice":false},
      "axis":{"orient":"bottom","values":[1,2,3,4,5,6,7,8,9,10,20,30,40,50,60,70,80,90,100,200,300,400,500,600,700,800,900,1000,2000,3000,4000,5000,6000,7000,8000,9000,10000],"labels":false,"tickSize":4,"tickColor":"#111","domain":false,"title":"FL1-Height","titleFontSize":12,"titleFontWeight":"normal","titleColor":"#111","titlePadding":13}},
     "y":{"field":"c","type":"quantitative","scale":{"domain":[0,120],"nice":false},
      "axis":{"orient":"left","offset":-299,"values":[0,4,8,12,16,20,24,28,32,36,40,44,48,52,56,60,64,68,72,76,80,84,88,92,96,100,104,108,112,116,120],"labels":false,"tickSize":3,"tickColor":"#111","domain":false,"title":null}}}},
   {"data":{"name":"g5"},"mark":{"type":"rule","color":"#111","strokeWidth":1.4},"encoding":{"x":{"field":"start","type":"quantitative"},"x2":{"field":"end"},"y":{"field":"level","type":"quantitative"}}},
   {"data":{"name":"k5"},"mark":{"type":"rule","color":"#111","strokeWidth":1.4},"encoding":{"x":{"field":"at","type":"quantitative"},"y":{"field":"lo","type":"quantitative"},"y2":{"field":"hi"}}},
   {"data":{"name":"g5"},"transform":[{"filter":"datum.m == 'M2'"}],"mark":{"type":"text","align":"left","baseline":"middle","dx":2,"dy":-20,"fontSize":12},"encoding":{"x":{"field":"start","type":"quantitative"},"y":{"field":"level","type":"quantitative"},"text":{"field":"m"}}},
   {"data":{"name":"g5"},"transform":[{"filter":"datum.m == 'M1'"}],"mark":{"type":"text","align":"right","baseline":"middle","dx":2,"dy":-26,"fontSize":12},"encoding":{"x":{"field":"end","type":"quantitative"},"y":{"field":"level","type":"quantitative"},"text":{"field":"m"}}},
   {"data":{"values":[{"t":"HX 20μM"}]},"mark":{"type":"text","align":"left","baseline":"middle","font":"Liberation Serif","fontSize":12},"encoding":{"x":{"datum":1.76,"type":"quantitative"},"y":{"datum":123.9,"type":"quantitative"},"text":{"field":"t"}}},
   {"data":{"values":[{"t":"MJ030320.009"}]},"mark":{"type":"text","align":"center","baseline":"middle","fontSize":12},"encoding":{"x":{"datum":74.5,"type":"quantitative"},"y":{"datum":123.9,"type":"quantitative"},"text":{"field":"t"}}}
  ]},
  {"data":{"values":[{}]},"mark":{"type":"rect","fill":"transparent","stroke":"#111","strokeWidth":1.3},
   "encoding":{
    "x":{"datum":1,"type":"quantitative","scale":{"type":"log","domain":[1,10000],"range":[299,675],"nice":false},
     "axis":{"orient":"bottom","values":[1,10,100,1000,10000],"labelExpr":"datum.value == 1 ? '10⁰' : datum.value == 10 ? '10¹' : datum.value == 100 ? '10²' : datum.value == 1000 ? '10³' : '10⁴'","labelFontSize":12,"labelColor":"#111","labelFlush":false,"labelOverlap":false,"labelBound":false,"labelPadding":-3,"tickSize":6,"tickColor":"#111","domain":false,"title":null}},
    "x2":{"datum":10000},
    "y":{"datum":0,"type":"quantitative","scale":{"domain":[0,120],"nice":false},
     "axis":{"orient":"left","offset":-299,"values":[0,20,40,60,80,100,120],"format":"d","labelAngle":270,"labelAlign":"center","labelBaseline":"bottom","labelPadding":2,"labelFontSize":12,"labelColor":"#111","labelFlush":false,"labelOverlap":false,"tickSize":6,"tickColor":"#111","domain":false,"title":"Counts","titleFontSize":12,"titleFontWeight":"normal","titleColor":"#111","titlePadding":4}},
    "y2":{"datum":120}}},
  {"layer":[
   {"data":{"name":"s5"},"mark":{"type":"point","filled":true,"size":7,"color":"#222","opacity":0.9},
    "encoding":{
     "x":{"field":"f","type":"quantitative","scale":{"domain":[0,1000],"range":[319,424],"nice":false},
      "axis":{"orient":"bottom","offset":-204,"title":"FSC-Height","titleFontSize":4,"titleFontWeight":"normal","titlePadding":0,"values":[0,50,100,150,200,250,300,350,400,450,500,550,600,650,700,750,800,850,900,950,1000],"format":"d","labelExpr":"datum.value % 200 == 0 ? datum.label : ''","labelFontSize":4,"labelPadding":0.5,"labelFlush":false,"labelOverlap":false,"tickSize":1.5,"tickWidth":0.5,"domainWidth":0.6,"domainColor":"#444","tickColor":"#444","labelColor":"#333","titleColor":"#333"}},
     "y":{"field":"s","type":"quantitative","scale":{"domain":[0,1000],"range":[102,7],"nice":false},
      "axis":{"orient":"left","offset":-319,"title":"SSC-Height","titleFontSize":4,"titleFontWeight":"normal","titlePadding":0,"values":[0,50,100,150,200,250,300,350,400,450,500,550,600,650,700,750,800,850,900,950,1000],"format":"d","labelExpr":"datum.value % 200 == 0 ? datum.label : ''","labelFontSize":4,"labelAngle":270,"labelAlign":"center","labelBaseline":"bottom","labelPadding":0.5,"labelFlush":false,"labelOverlap":false,"tickSize":1.5,"tickWidth":0.5,"domainWidth":0.6,"domainColor":"#444","tickColor":"#444","labelColor":"#333","titleColor":"#333"}}}},
   {"data":{"values":[{}]},"mark":{"type":"rect","fill":"transparent","stroke":"#444","strokeWidth":0.8},"encoding":{"x":{"datum":0,"type":"quantitative"},"x2":{"datum":1000},"y":{"datum":0,"type":"quantitative"},"y2":{"datum":1000}}},
   {"data":{"name":"q5"},"mark":{"type":"line","color":"#222","strokeWidth":1},"encoding":{"x":{"field":"f","type":"quantitative"},"y":{"field":"s","type":"quantitative"},"order":{"field":"v"}}},
   {"data":{"values":[{"t":"MJ030320.009"}]},"mark":{"type":"text","fontSize":4.5,"dy":-4,"color":"#333"},"encoding":{"x":{"datum":500,"type":"quantitative"},"y":{"datum":1000,"type":"quantitative"},"text":{"field":"t"}}}
  ]}
 ],
 "resolve":{"scale":{"x":"independent","y":"independent"}}},

{"width":867,"height":135,
 "data":{"values":[{"line":1,"left":"File: MJ030320.009","right":"Sample ID:"},{"line":2,"left":"Acquisition Date: 20-Mar-3","right":"Gate: G1"},{"line":3,"left":"Gated Events: 8601","right":"Total Events: 10000"},{"line":4,"left":"X Parameter: FL1 FL1-Height (Log)","right":""}]},
 "transform":[{"fold":["left","right"],"as":["side","txt"]}],
 "mark":{"type":"text","align":"left","baseline":"middle","fontSize":12},
 "encoding":{"x":{"field":"side","type":"nominal","scale":{"type":"point","domain":["left","right"],"range":[283,519],"padding":0},"axis":null},"y":{"field":"line","type":"ordinal","scale":{"type":"point","range":[61,105],"padding":0},"axis":null},"text":{"field":"txt"}}},

{"width":867,"height":52,
 "data":{"values":[{"Marker":"All","Events":"8601","% Gated":"100.00","% Total":"86.01","Mean":"522.01","SD":"270.74","Peak Ch":"437"},{"Marker":"M1","Events":"8349","% Gated":"97.07","% Total":"83.49","Mean":"535.67","SD":"262.84","Peak Ch":"437"},{"Marker":"M2","Events":"255","% Gated":"2.96","% Total":"2.55","Mean":"70.03","SD":"41.26","Peak Ch":"95"}]},
 "transform":[{"fold":["Marker","Events","% Gated","% Total","Mean","SD","Peak Ch"],"as":["col","val"]}],
 "mark":{"type":"text","align":"right","baseline":"middle","fontSize":12},
 "encoding":{
  "x":{"field":"col","type":"nominal","scale":{"type":"point","domain":["Marker","Events","% Gated","% Total","Mean","SD","Peak Ch"],"range":[278,643],"padding":0.443,"align":0.915},
   "axis":{"orient":"top","title":null,"ticks":false,"domainColor":"#111","domainWidth":1.5,"labelAngle":0,"labelAlign":"right","labelBaseline":"bottom","labelPadding":1,"labelFontSize":12,"labelColor":"#111"}},
  "y":{"field":"Marker","type":"nominal","scale":{"type":"point","domain":["All","M1","M2"],"range":[7,35],"padding":0},"axis":null},
  "text":{"field":"val"}}}
]
}
